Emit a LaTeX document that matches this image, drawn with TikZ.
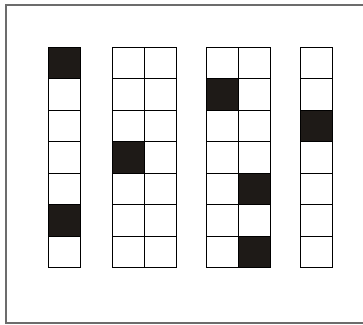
\documentclass[tikz,border=0pt]{standalone}
\begin{document}
\begin{tikzpicture}[x=1pt,y=-1pt,
  cell/.style={draw=black,line width=1pt,fill=white},
  dark/.style={draw=black,line width=1pt,fill=darkcell},
  frame/.style={draw=gray!85!black,line width=1.1pt}]
\definecolor{darkcell}{HTML}{1E1A17}
\useasboundingbox (0,0) rectangle (363,324);
\draw[frame] (363,5) -- (6,5) -- (6,323) -- (363,323);
\def\ch{31.5}
\def\cw{32}
\foreach \x/\n in {48/1,112/2,206/2,300/1}{
  \foreach \r in {0,...,6}{
    \foreach \c in {1,...,\n}{
      \draw[cell] (\x+\cw*\c-\cw,47.3+\ch*\r) rectangle ++(\cw,\ch);
    }
  }
}
\foreach \x/\r in {48/0,48/5,112/3,206/1,238/4,238/6,300/2}{
  \draw[dark] (\x,47.3+\ch*\r) rectangle ++(\cw,\ch);
}
\end{tikzpicture}
\end{document}
